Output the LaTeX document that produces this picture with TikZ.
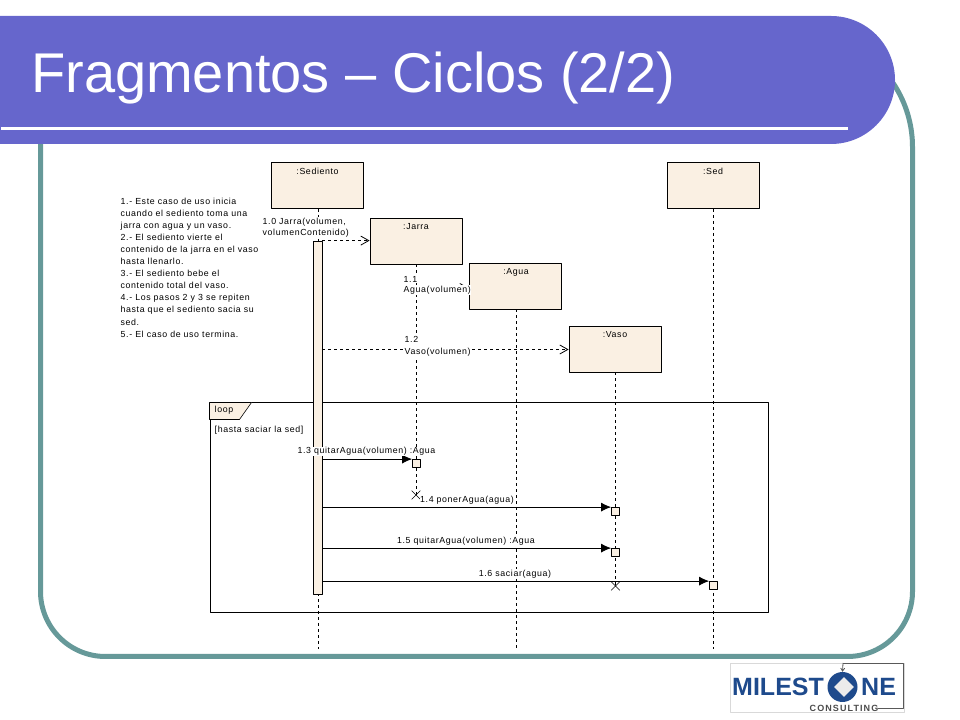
\documentclass[tikz,border=0pt]{standalone}
\usepackage{fontspec}
\usepackage{amsmath}
\setmainfont{Liberation Sans}
\newfontfamily\umlfont[LetterSpace=7]{Liberation Sans}
\newfontfamily\logofont[LetterSpace=12]{Liberation Sans}
\usetikzlibrary{arrows.meta}
\usetikzlibrary{shapes, shapes.geometric}
\definecolor{bandblue}{HTML}{6666CC}
\definecolor{frameteal}{HTML}{669999}
\definecolor{lifecream}{HTML}{FAF0E3}
\definecolor{logoblue}{HTML}{1E4A8C}
\tikzset{
  lifebox/.style={draw=black,line width=0.8bp,fill=lifecream,minimum width=92bp,minimum height=46bp,inner sep=0pt},
  lifename/.style={font=\umlfont\fontsize{8.8bp}{10bp}\selectfont,inner sep=0pt},
  lifeline/.style={black,line width=0.8bp,dash pattern=on 3bp off 3bp},
  msgtext/.style={font=\umlfont\fontsize{8.8bp}{11.5bp}\selectfont,inner sep=0.5pt,align=left},
  callsolid/.style={black,line width=0.8bp,-{Latex[length=10bp,width=9bp]}},
  calldash/.style={black,line width=0.8bp,dash pattern=on 3bp off 3bp,-{Straight Barb[length=8bp,width=9bp]}},
  execsquare/.style={draw=black,line width=0.8bp,fill=lifecream,minimum size=8bp,inner sep=0pt},
  stopcross/.style={cross out,draw=black,line width=0.6bp,minimum size=8bp,inner sep=0pt},
}
\begin{document}
\begin{tikzpicture}[>=latex,line join=bevel,]
\useasboundingbox (0bp,0bp) rectangle (960bp,720bp);
%% slide
\draw [frameteal,line width=5bp] (40.5bp,600bp) -- (40.5bp,128.5bp) arc (180:270:65bp) -- (847.5bp,63.5bp) arc (270:360:65bp) -- (912.5bp,573bp) arc (0:60:115bp);
\fill [bandblue] (0bp,704bp) -- (831bp,704bp) arc (90:-90:64bp) -- (0bp,576bp) -- cycle;
\fill [white] (1bp,590bp) rectangle (848bp,593bp);
\node (title) at (31bp,627bp) [anchor=base west,inner sep=0pt,white,font=\fontsize{56bp}{60bp}\selectfont] {Fragmentos -- Ciclos (2/2)};
%% loop frame
\node (loop_frame) at (489bp,212bp) [draw=black,line width=1bp,minimum width=558bp,minimum height=210bp,inner sep=0pt] {};
\draw [black,line width=0.6bp,fill=lifecream] (loop_frame.north west) -- ++(42bp,0bp) -- ++(-12bp,-17bp) -- ++(-30bp,0bp) -- cycle;
\node (loop_name) at (214bp,309.5bp) [anchor=west,msgtext] {loop};
\node (loop_guard) at (214bp,290bp) [anchor=west,msgtext] {[hasta saciar la sed]};
%% lifelines
\node (sediento) at (317.5bp,534.5bp) [lifebox] {};
\node (jarra) at (416bp,479bp) [lifebox] {};
\node (agua) at (515bp,434bp) [lifebox] {};
\node (vaso) at (615bp,371bp) [lifebox] {};
\node (sed) at (713bp,534.5bp) [lifebox] {};
\node (sediento_name) at (317.5bp,549bp) [lifename] {:Sediento};
\node (jarra_name) at (416bp,493bp) [lifename] {:Jarra};
\node (agua_name) at (516bp,448bp) [lifename] {:Agua};
\node (vaso_name) at (615bp,385.5bp) [lifename] {:Vaso};
\node (sed_name) at (713bp,549bp) [lifename] {:Sed};
\coordinate (sediento_end) at (318bp,71bp);
\coordinate (agua_end) at (516bp,71bp);
\coordinate (sed_end) at (713bp,71bp);
\node (jarra_stop) at (416bp,225bp) [stopcross] {};
\node (vaso_stop) at (615.5bp,134bp) [stopcross] {};
\draw [lifeline] (sediento_end |- sediento.south) -- (sediento_end);
\draw [lifeline] (jarra.south) -- (jarra_stop.center);
\draw [lifeline] (agua_end |- agua.south) -- (agua_end);
\draw [lifeline] (vaso_stop |- vaso.south) -- (vaso_stop.center);
\draw [lifeline] (sed.south) -- (sed_end);
%% activation
\node (bar) at (317.5bp,302.5bp) [draw=black,line width=0.8bp,fill=lifecream,minimum width=9bp,minimum height=353bp,inner sep=0pt] {};
\node (exec_3) at (416.5bp,256.5bp) [execsquare] {};
\node (exec_4) at (615.5bp,208.5bp) [execsquare] {};
\node (exec_5) at (615.5bp,167.5bp) [execsquare] {};
\node (exec_6) at (713.5bp,134.5bp) [execsquare] {};
%% messages
\coordinate (from_0) at (bar.north east);
\coordinate (from_1) at (416bp,432bp);
\coordinate (from_2) at (322bp,370.5bp);
\coordinate (from_3) at (bar.east |- exec_3.north);
\coordinate (from_4) at (bar.east |- exec_4.north);
\coordinate (from_5) at (bar.east |- exec_5.north);
\coordinate (from_6) at (bar.east |- exec_6.north);
\draw [calldash] (from_0) -- (jarra.west |- from_0);
\draw [calldash] (from_1) -- (agua.west |- from_1);
\draw [calldash] (from_2) -- (vaso.west |- from_2);
\draw [callsolid] (from_3) -- (exec_3.north west);
\draw [callsolid] (from_4) -- (exec_4.north west);
\draw [callsolid] (from_5) -- (exec_5.north west);
\draw [callsolid] (from_6) -- (exec_6.north west);
%% labels
\node (msg_0) at (262bp,503bp) [anchor=north west,msgtext,fill=white] {1.0 Jarra(volumen,\\volumenContenido)};
\node (msg_1_num) at (403bp,441bp) [anchor=west,msgtext,fill=white] {1.1};
\node (msg_1_call) at (403bp,430bp) [anchor=west,msgtext,fill=white] {Agua(volumen)};
\node (msg_2) at (404bp,384bp) [anchor=north west,msgtext,fill=white] {1.2\\Vaso(volumen)};
\node (msg_3) at (366.5bp,268.5bp) [msgtext,fill=white] {1.3 quitarAgua(volumen) :Agua};
\node (msg_4) at (467bp,220bp) [msgtext,fill=white] {1.4 ponerAgua(agua)};
\node (msg_5) at (466bp,179bp) [msgtext,fill=white] {1.5 quitarAgua(volumen) :Agua};
\node (msg_6) at (515bp,146bp) [msgtext,fill=white] {1.6 saciar(agua)};
%% use case steps
\node (steps) at (120.5bp,522.5bp) [anchor=north west,inner sep=0pt,align=left,font=\umlfont\fontsize{8.8bp}{12.1bp}\selectfont] {1.- Este caso de uso inicia\\cuando el sediento toma una\\jarra con agua y un vaso.\\2.- El sediento vierte el\\contenido de la jarra en el vaso\\hasta llenarlo.\\3.- El sediento bebe el\\contenido total del vaso.\\4.- Los pasos 2 y 3 se repiten\\hasta que el sediento sacia su\\sed.\\5.- El caso de uso termina.};
%% logo
\node (logo_box) at (817bp,32.5bp) [draw=black!15,line width=0.6bp,fill=white,minimum width=174bp,minimum height=49bp,inner sep=0pt] {};
\node (logo_left) at (732bp,33bp) [anchor=west,inner sep=0pt,logoblue,font=\bfseries\fontsize{25bp}{25bp}\selectfont] {MILEST};
\node (logo_right) at (861bp,33bp) [anchor=west,inner sep=0pt,logoblue,font=\bfseries\fontsize{25bp}{25bp}\selectfont] {NE};
\node (logo_ring) at (842.5bp,33bp) [circle,fill=logoblue,minimum size=30bp,inner sep=0pt] {};
\node (logo_gem) at (844bp,33bp) [diamond,fill=black!8,minimum size=20bp,inner sep=0pt] {};
\node (logo_sub) at (844bp,12bp) [inner sep=0pt,black!70,font=\logofont\bfseries\fontsize{9bp}{10bp}\selectfont] {CONSULTING};
\coordinate (logo_top) at (843bp,57bp);
\draw [black!65,line width=0.8bp] (logo_sub.east) -- (903bp,12bp) -- (903bp,57bp) -- (logo_top);
\draw [black!65,line width=0.8bp,-{Straight Barb[length=3bp,width=4bp]}] (logo_top) -- (logo_ring.north);
%
\end{tikzpicture}
\end{document}
